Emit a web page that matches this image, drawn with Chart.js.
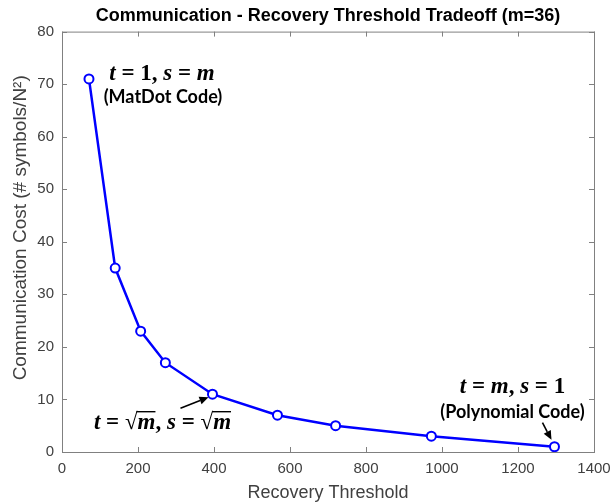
<!DOCTYPE html>
<html lang="en">
<head>
    <meta charset="UTF-8">
    <title>Communication - Recovery Threshold Tradeoff</title>
    <script src="https://cdn.jsdelivr.net/npm/chart.js@4.4.0/dist/chart.umd.min.js"></script>
    <style>
        html, body { margin: 0; padding: 0; background: #fff; }
        #wrap { width: 611px; height: 504px; }
    </style>
</head>
<body>
    <div id="wrap"><canvas id="tradeoffChart" width="611" height="504"></canvas></div>
    <script>
        // data (m = 36)
        const recoveryThreshold = [71, 140, 207, 272, 396, 567, 720, 972, 1296];
        const commCost = [71, 35, 23, 17, 11, 7, 5, 3, 1];
        const xTicks = [0, 200, 400, 600, 800, 1000, 1200, 1400];
        const yTicks = [0, 10, 20, 30, 40, 50, 60, 70, 80];

        const axisGray = '#808080';
        const labelGray = '#404040';
        const sans = '"Liberation Sans", Arial, sans-serif';

        // math label helper: parts are [text, italic?, overline?]
        function drawMath(ctx, parts, cx, cy, size) {
            const fam = '"Liberation Serif", serif';
            const fontFor = (it) => (it ? 'italic bold ' : 'bold ') + size + 'px ' + fam;
            let total = 0;
            parts.forEach(p => {
                ctx.font = fontFor(p[1]);
                total += ctx.measureText(p[0]).width;
            });
            let x = cx - total / 2;
            ctx.textBaseline = 'middle';
            ctx.textAlign = 'left';
            parts.forEach(p => {
                ctx.font = fontFor(p[1]);
                const w = ctx.measureText(p[0]).width;
                ctx.fillText(p[0], x, cy);
                if (p[2]) {
                    // overline for the radical
                    ctx.save();
                    ctx.lineWidth = 1.4;
                    ctx.beginPath();
                    ctx.moveTo(x - 1, cy - size * 0.5);
                    ctx.lineTo(x + w, cy - size * 0.5);
                    ctx.stroke();
                    ctx.restore();
                }
                x += w;
            });
        }

        function arrow(ctx, x1, y1, x2, y2) {
            const a = Math.atan2(y2 - y1, x2 - x1);
            const hl = 9, hw = 4;
            ctx.save();
            ctx.strokeStyle = '#000';
            ctx.fillStyle = '#000';
            ctx.lineWidth = 1.6;
            ctx.beginPath();
            ctx.moveTo(x1, y1);
            ctx.lineTo(x2 - hl * Math.cos(a), y2 - hl * Math.sin(a));
            ctx.stroke();
            ctx.beginPath();
            ctx.moveTo(x2, y2);
            ctx.lineTo(x2 - hl * Math.cos(a) + hw * Math.sin(a), y2 - hl * Math.sin(a) - hw * Math.cos(a));
            ctx.lineTo(x2 - hl * Math.cos(a) - hw * Math.sin(a), y2 - hl * Math.sin(a) + hw * Math.cos(a));
            ctx.closePath();
            ctx.fill();
            ctx.restore();
        }

        // MATLAB-style box with inward ticks, plus the y axis label
        const boxPlugin = {
            id: 'box',
            beforeDatasetsDraw(chart) {
                const { ctx, chartArea: a, scales: { x, y } } = chart;
                const tl = 5;
                ctx.save();
                ctx.strokeStyle = axisGray;
                ctx.lineWidth = 1;
                ctx.strokeRect(a.left + 0.5, a.top + 0.5, a.right - a.left, a.bottom - a.top);
                ctx.beginPath();
                xTicks.forEach(v => {
                    const px = Math.round(x.getPixelForValue(v)) + 0.5;
                    ctx.moveTo(px, a.bottom); ctx.lineTo(px, a.bottom - tl);
                    ctx.moveTo(px, a.top); ctx.lineTo(px, a.top + tl);
                });
                yTicks.forEach(v => {
                    const py = Math.round(y.getPixelForValue(v)) + 0.5;
                    ctx.moveTo(a.left, py); ctx.lineTo(a.left + tl, py);
                    ctx.moveTo(a.right, py); ctx.lineTo(a.right - tl, py);
                });
                ctx.stroke();

                ctx.translate(21, (a.top + a.bottom) / 2 - 14);
                ctx.rotate(-Math.PI / 2);
                ctx.fillStyle = labelGray;
                ctx.font = '19px ' + sans;
                ctx.textAlign = 'center';
                ctx.textBaseline = 'middle';
                ctx.fillText('Communication Cost (# symbols/N\u00B2)', 0, 0);
                ctx.restore();
            }
        };

        const notePlugin = {
            id: 'notes',
            afterDatasetsDraw(chart) {
                const { ctx, scales: { x, y } } = chart;
                const pt = i => [x.getPixelForValue(recoveryThreshold[i]), y.getPixelForValue(commCost[i])];
                const last = recoveryThreshold.length - 1;
                ctx.save();
                ctx.fillStyle = '#000';
                ctx.strokeStyle = '#000';

                const sansBold = 'bold 18px Lato, "Open Sans", sans-serif';

                // MatDot end
                let [px, py] = pt(0);
                drawMath(ctx, [['t', true], [' = ', false], ['1', false], [', ', false], ['s', true], [' = ', false], ['m', true]], px + 73, py - 5, 23);
                ctx.font = sansBold;
                ctx.textAlign = 'center';
                ctx.fillText('(MatDot Code)', px + 74, py + 18);

                // sqrt(m) point
                [px, py] = pt(4);
                drawMath(ctx, [['t', true], [' = ', false], ['\u221A', false], ['m', true, true], [', ', false], ['s', true], [' = ', false], ['\u221A', false], ['m', true, true]], px - 50, py + 29, 23);
                arrow(ctx, px - 32, py + 14, px - 4, py + 3);

                // Polynomial end
                [px, py] = pt(last);
                drawMath(ctx, [['t', true], [' = ', false], ['m', true], [', ', false], ['s', true], [' = ', false], ['1', false]], px - 42, py - 60, 23);
                ctx.font = sansBold;
                ctx.textAlign = 'center';
                ctx.textBaseline = 'middle';
                ctx.fillText('(Polynomial Code)', px - 42, py - 35);
                arrow(ctx, px - 12, py - 24, px - 3, py - 7);
                ctx.restore();
            }
        };

        new Chart(document.getElementById('tradeoffChart'), {
            type: 'scatter',
            data: {
                datasets: [{
                    data: recoveryThreshold.map((v, i) => ({ x: v, y: commCost[i] })),
                    showLine: true,
                    borderColor: '#0000ff',
                    borderWidth: 2.5,
                    pointRadius: 4.5,
                    pointBorderWidth: 2,
                    pointBackgroundColor: '#ffffff',
                    pointBorderColor: '#0000ff',
                    tension: 0
                }]
            },
            options: {
                responsive: false,
                animation: false,
                layout: { padding: { top: 0, right: 17, bottom: 0, left: 0 } },
                plugins: {
                    legend: { display: false },
                    tooltip: { enabled: false },
                    title: {
                        display: true,
                        fullSize: false,
                        text: 'Communication - Recovery Threshold Tradeoff (m=36)',
                        color: '#000',
                        font: { family: sans, size: 18, weight: 'bold' },
                        padding: { top: 5, bottom: 5 }
                    }
                },
                scales: {
                    x: {
                        type: 'linear',
                        min: 0, max: 1400,
                        afterBuildTicks: s => { s.ticks = xTicks.map(v => ({ value: v })); },
                        afterFit: s => { s.height = 52; s.paddingLeft = 0; s.paddingRight = 0; },
                        grid: { display: false, drawTicks: false },
                        border: { display: false },
                        ticks: {
                            color: labelGray, padding: 8, maxRotation: 0,
                            callback: v => String(v),
                            font: { family: sans, size: 15 }
                        },
                        title: {
                            display: true, text: 'Recovery Threshold', color: labelGray,
                            font: { family: sans, size: 18 },
                            padding: { top: 0, bottom: 0 }
                        }
                    },
                    y: {
                        min: 0, max: 80,
                        afterBuildTicks: s => { s.ticks = yTicks.map(v => ({ value: v })); },
                        afterFit: s => { s.width = 62; s.paddingTop = 0; s.paddingBottom = 0; },
                        grid: { display: false, drawTicks: false },
                        border: { display: false },
                        ticks: {
                            color: labelGray, padding: 8,
                            callback: v => String(v),
                            font: { family: sans, size: 15 }
                        }
                    }
                }
            },
            plugins: [boxPlugin, notePlugin]
        });
    </script>
</body>
</html>
